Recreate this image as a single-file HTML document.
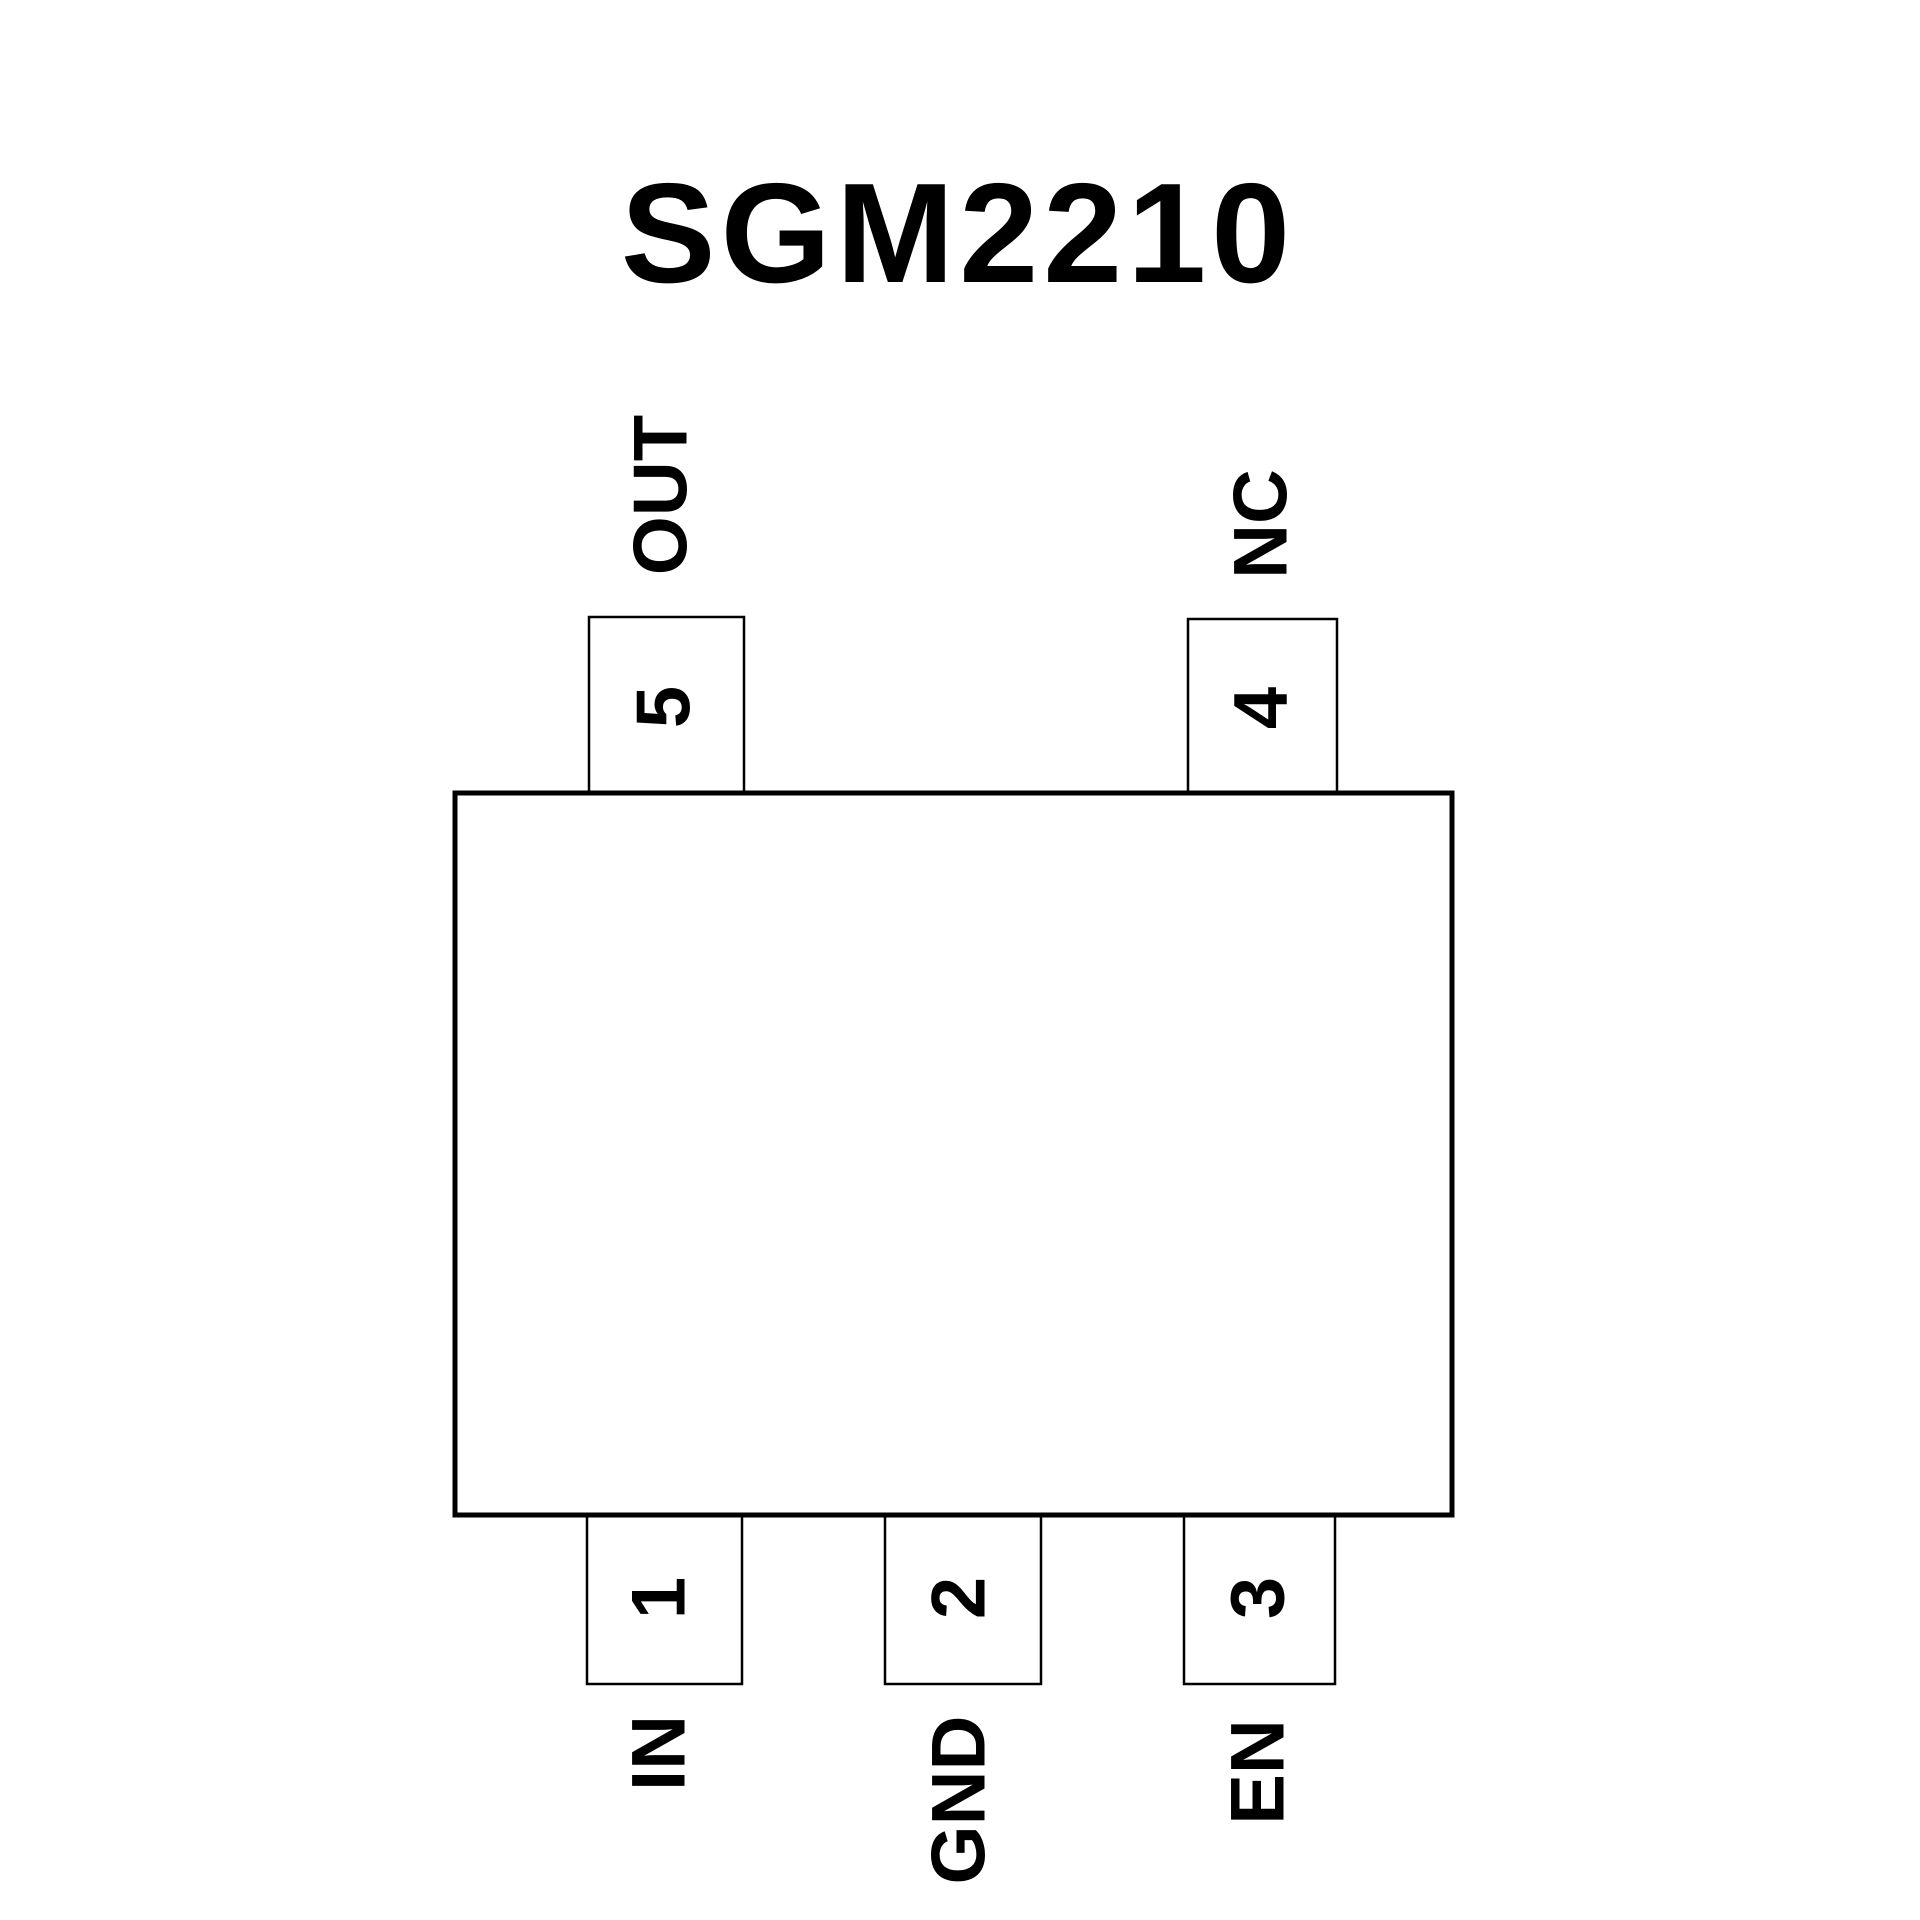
<!DOCTYPE html>
<html><head><meta charset="utf-8"><style>
html,body{margin:0;padding:0;background:#fff;width:1920px;height:1920px;overflow:hidden}
svg{display:block}
text{font-family:"Liberation Sans",Arial,sans-serif;font-weight:bold;fill:#000}
</style></head><body>
<svg width="1920" height="1920" viewBox="0 0 1920 1920" xmlns="http://www.w3.org/2000/svg">
<text x="958" y="282" font-size="142" text-anchor="middle" font-family="Liberation Sans, Arial, sans-serif" font-weight="bold" letter-spacing="5">SGM2210</text>
<g fill="none" stroke="#000" stroke-width="2.5">
<rect x="589" y="617" width="155" height="176"/>
<rect x="1188" y="619" width="149" height="174"/>
<rect x="587" y="1515" width="155" height="169"/>
<rect x="885" y="1515" width="156" height="169"/>
<rect x="1184" y="1515" width="151" height="169"/>
</g>
<rect x="455" y="793" width="997" height="722" fill="#fff" stroke="#000" stroke-width="5"/>
<g font-size="76" font-family="Liberation Sans, Arial, sans-serif" font-weight="bold">
<text transform="translate(664,707) rotate(-90)" text-anchor="middle" dominant-baseline="central">5</text>
<text transform="translate(1261,708) rotate(-90)" text-anchor="middle" dominant-baseline="central">4</text>
<text transform="translate(659,1598) rotate(-90)" text-anchor="middle" dominant-baseline="central">1</text>
<text transform="translate(959,1598) rotate(-90)" text-anchor="middle" dominant-baseline="central">2</text>
<text transform="translate(1258,1598) rotate(-90)" text-anchor="middle" dominant-baseline="central">3</text>
<text transform="translate(661,495) rotate(-90)" text-anchor="middle" dominant-baseline="central">OUT</text>
<text transform="translate(1261,524) rotate(-90)" text-anchor="middle" dominant-baseline="central">NC</text>
<text transform="translate(659,1753) rotate(-90)" text-anchor="middle" dominant-baseline="central">IN</text>
<text transform="translate(959,1800) rotate(-90)" text-anchor="middle" dominant-baseline="central">GND</text>
<text transform="translate(1258,1772) rotate(-90)" text-anchor="middle" dominant-baseline="central">EN</text>
</g>
</svg>
</body></html>
